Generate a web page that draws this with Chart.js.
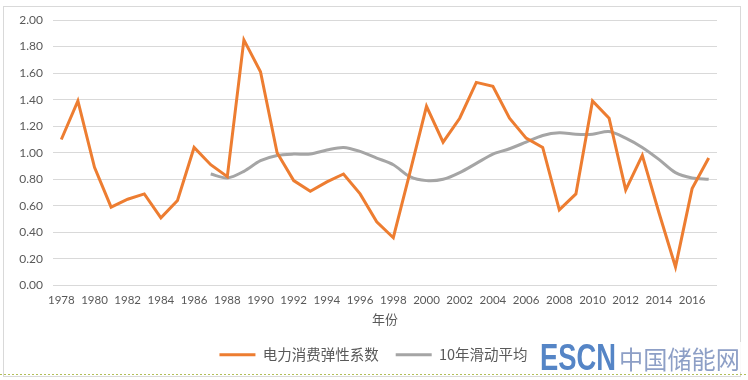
<!DOCTYPE html>
<html lang="zh">
<head>
  <meta charset="UTF-8">
  <title>电力消费弹性系数</title>
  <script src="https://cdn.jsdelivr.net/npm/chart.js"></script>
  <style>
    html, body{
      margin: 0;
      padding: 0;
      background: #fff;
    }
    #box{
      width: 748px;
      height: 380px;
    }
  </style>
</head>
<body>
  <div id="box">
    <canvas id="elasticChart" width="748" height="380"></canvas>
  </div>

<script>
  const years = ['1978','1979','1980','1981','1982','1983','1984','1985','1986','1987',
                 '1988','1989','1990','1991','1992','1993','1994','1995','1996','1997',
                 '1998','1999','2000','2001','2002','2003','2004','2005','2006','2007',
                 '2008','2009','2010','2011','2012','2013','2014','2015','2016','2017'];

  // 电力消费弹性系数
  const elasticity = [1.10, 1.39, 0.89, 0.59, 0.65, 0.69, 0.51, 0.64, 1.04, 0.91,
                      0.82, 1.85, 1.61, 1.00, 0.79, 0.71, 0.78, 0.84, 0.69, 0.48,
                      0.36, 0.85, 1.35, 1.08, 1.26, 1.53, 1.50, 1.26, 1.11, 1.04,
                      0.57, 0.69, 1.39, 1.26, 0.72, 0.98, 0.55, 0.14, 0.73, 0.96];

  // 10年滑动平均 (starts in 1987)
  const movingAvg = [null, null, null, null, null, null, null, null, null, 0.84,
                     0.81, 0.86, 0.94, 0.98, 0.99, 0.99, 1.02, 1.04, 1.01, 0.96,
                     0.91, 0.82, 0.79, 0.80, 0.85, 0.92, 0.99, 1.03, 1.08, 1.13,
                     1.15, 1.14, 1.14, 1.16, 1.11, 1.04, 0.95, 0.85, 0.81, 0.80];

  const yTicks = [0, 0.2, 0.4, 0.6, 0.8, 1.0, 1.2, 1.4, 1.6, 1.8, 2.0];

  const numFont = "'Lato', 'Noto Sans', sans-serif";
  const cjkFont = "'Noto Sans CJK SC', 'Noto Sans', sans-serif";

  // legend sits centred on the whole page, not on the padded box
  const legendShift = {
    id: 'legendShift',
    beforeDraw(chart) {
      chart.legend.left += 10;
      chart.legend.right += 10;
    }
  };

  // frame, dotted page rule and the site watermark
  const decor = {
    id: 'decor',
    afterDraw(chart) {
      const ctx = chart.ctx;
      ctx.save();
      ctx.strokeStyle = '#d9d9d9';
      ctx.lineWidth = 1;
      ctx.strokeRect(3.5, 6.5, 737, 370);

      ctx.strokeStyle = '#b3bf5a';
      ctx.setLineDash([2, 2]);
      ctx.beginPath();
      ctx.moveTo(0, 374.5);
      ctx.lineTo(748, 374.5);
      ctx.stroke();
      ctx.setLineDash([]);

      ctx.fillStyle = 'rgba(255,255,255,0.85)';
      ctx.fillRect(538, 342, 206, 30);
      ctx.textBaseline = 'middle';
      ctx.font = "bold 37px 'Liberation Sans Narrow', 'Liberation Sans', sans-serif";
      ctx.fillStyle = '#5585c6';
      ctx.fillText('ESCN', 540, 360, 76);
      ctx.font = "25px " + cjkFont;
      ctx.fillStyle = '#8d9fc6';
      ctx.fillText('中国储能网', 619, 359, 121);
      ctx.restore();
    }
  };

  const ctx = document.getElementById('elasticChart').getContext('2d');
  new Chart(ctx, {
    type: 'line',
    data: {
      labels: years,
      datasets: [
        {
          label: '电力消费弹性系数',
          data: elasticity,
          borderColor: '#ED7D31',
          backgroundColor: '#ED7D31',
          borderWidth: 3,
          pointRadius: 0,
          tension: 0
        },
        {
          label: '10年滑动平均',
          data: movingAvg,
          borderColor: '#A5A5A5',
          backgroundColor: '#A5A5A5',
          borderWidth: 3,
          pointRadius: 0,
          tension: 0.3,
          spanGaps: false
        }
      ]
    },
    options: {
      responsive: false,
      animation: false,
      layout: {
        padding: { left: 10, right: 31, top: 20, bottom: 8 }
      },
      plugins: {
        legend: {
          position: 'bottom',
          labels: {
            usePointStyle: true,
            pointStyle: 'line',
            pointStyleWidth: 36,
            boxHeight: 13,
            padding: 17,
            color: '#595959',
            font: { family: cjkFont, size: 14.5 }
          }
        },
        tooltip: { enabled: false }
      },
      scales: {
        x: {
          offset: true,
          grid: { display: false, drawTicks: false, tickLength: 0 },
          border: { display: false },
          ticks: {
            autoSkip: false,
            maxRotation: 0,
            padding: 8,
            color: '#595959',
            font: { family: numFont, size: 11.5 },
            callback: function(value, index) {
              return index % 2 === 0 ? years[index] : '';
            }
          },
          title: {
            display: true,
            text: '年份',
            color: '#595959',
            padding: { top: 4, bottom: 4 },
            font: { family: cjkFont, size: 13 }
          },
          afterFit: function(scale) { scale.height = 45; }
        },
        y: {
          min: 0,
          max: 2,
          afterBuildTicks: function(scale) {
            scale.ticks = yTicks.map(v => ({ value: v }));
          },
          grid: { color: '#d9d9d9', lineWidth: 1, drawTicks: false },
          border: { display: false },
          ticks: {
            padding: 10,
            color: '#595959',
            font: { family: numFont, size: 12 },
            callback: function(value) { return Number(value).toFixed(2); }
          },
          afterFit: function(scale) { scale.width = 43; }
        }
      }
    },
    plugins: [legendShift, decor]
  });
</script>
</body>
</html>
